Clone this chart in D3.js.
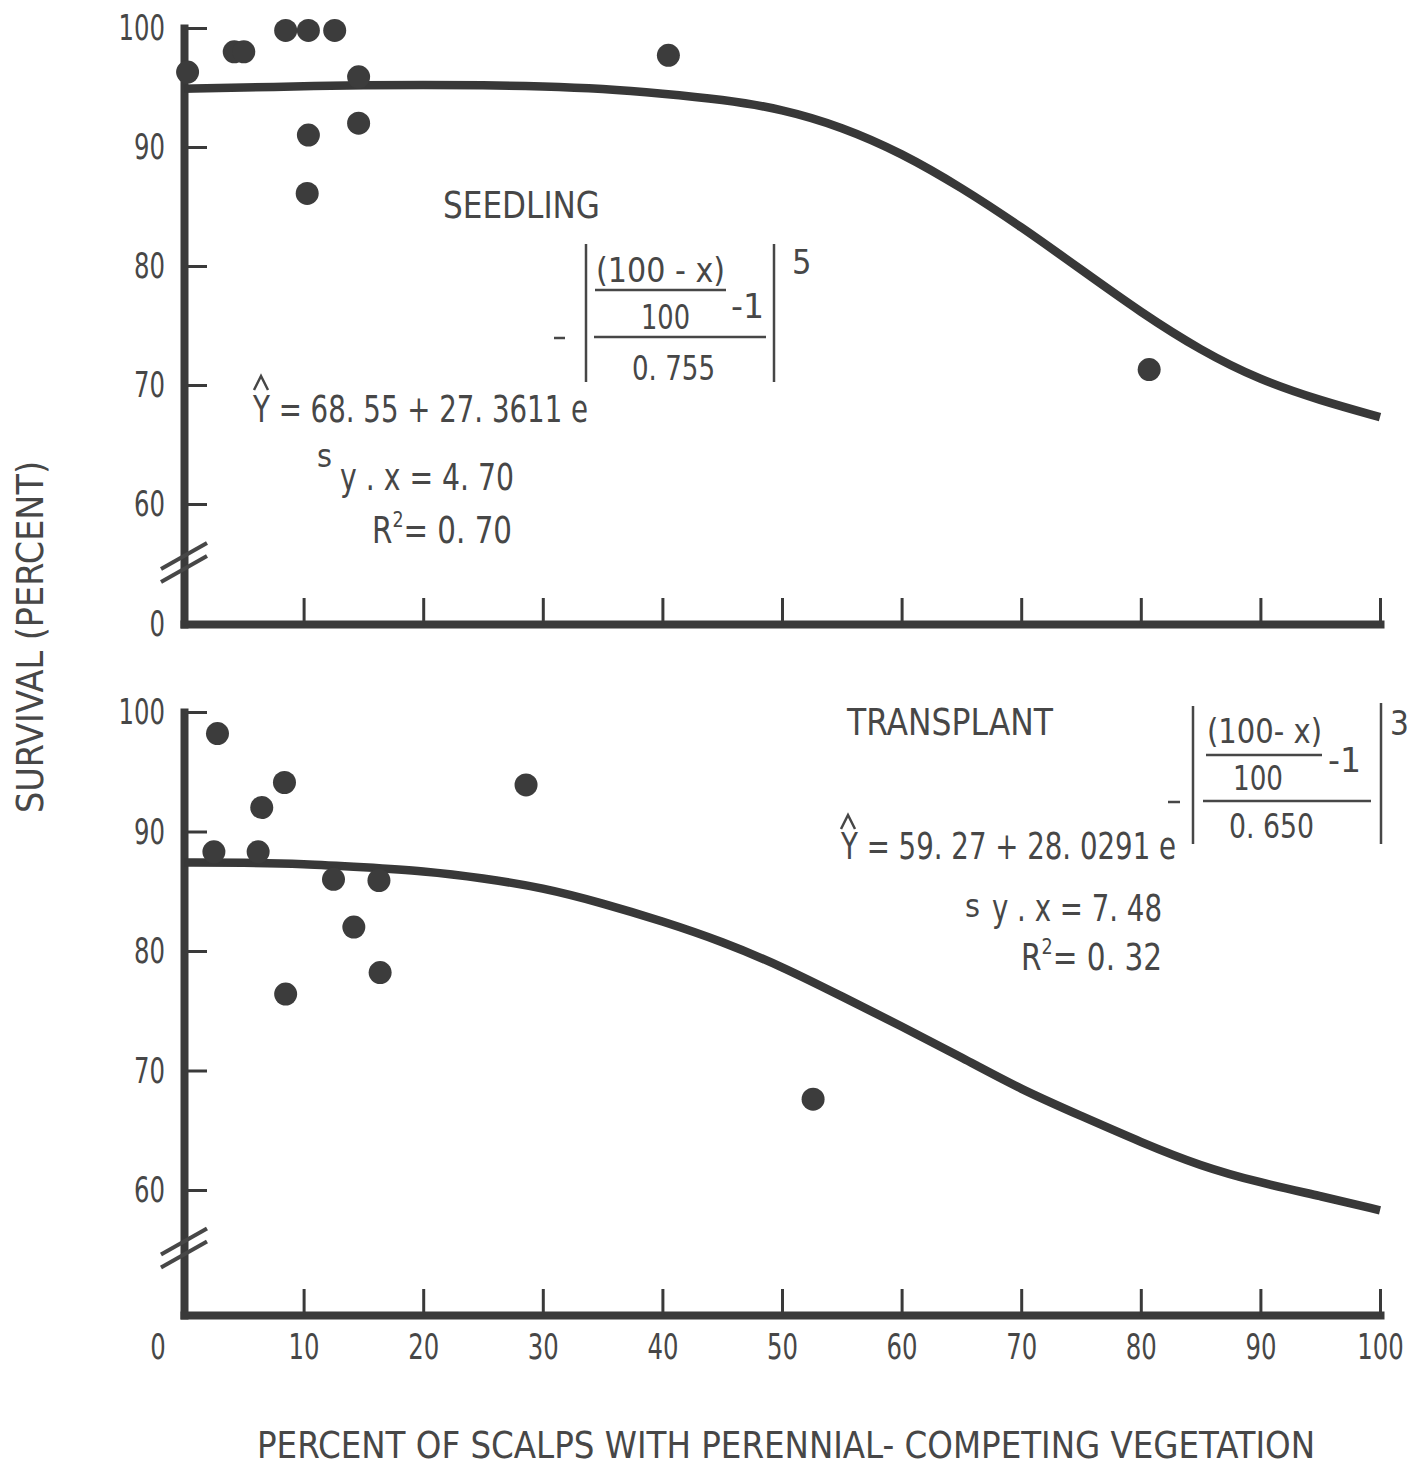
<!DOCTYPE html>
<html lang="en">
<head>
    <meta charset="UTF-8">
    <title>Survival vs competing vegetation</title>
    <style>
        body { margin: 0; background: #fff; }
        text {
            font-family: "Liberation Sans Narrow", "DejaVu Sans Condensed", "Arial Narrow", sans-serif;
            fill: #474747;
        }
        .domain { stroke: #3a3a3a; stroke-width: 8; stroke-linecap: square; }
        .tick line { stroke: #3a3a3a; stroke-width: 3; }
        .fit { fill: none; stroke: #383838; stroke-width: 8.5; }
        .dot { fill: #3c3c3c; }
        .rule { stroke: #474747; stroke-width: 2.5; fill: none; }
    </style>
</head>
<body>
<svg id="chart" width="1422" height="1466"></svg>
<script src="https://cdn.jsdelivr.net/npm/d3@7"></script>
<script>
// values
const curveX = [0, 5, 10, 15, 20, 25, 30, 35, 40, 45, 50, 55, 60, 65, 70, 75, 80, 85, 90, 95, 100]
const seedlingCurve = [94.9, 95.0, 95.1, 95.2, 95.2, 95.2, 95.1, 94.9, 94.5, 94.0, 93.2, 91.7, 89.5, 86.6, 83.3, 79.7, 76.1, 72.9, 70.4, 68.7, 67.3]
const transplantCurve = [87.4, 87.4, 87.3, 87.0, 86.7, 86.1, 85.3, 84.0, 82.5, 80.8, 78.7, 76.2, 73.7, 71.1, 68.4, 66.2, 64.0, 62.0, 60.6, 59.5, 58.3]

const seedlingX = [0.3, 4.2, 5.0, 8.5, 10.4, 12.6, 14.6, 14.6, 10.4, 10.3, 40.5, 80.7]
const seedlingY = [96.3, 98.0, 98.0, 99.8, 99.8, 99.8, 95.9, 92.0, 91.0, 86.1, 97.7, 71.3]
const transplantX = [2.8, 8.4, 6.5, 2.5, 6.2, 12.5, 16.3, 14.2, 16.4, 8.5, 28.6, 52.6]
const transplantY = [98.2, 94.1, 92.0, 88.3, 88.3, 86.0, 85.9, 82.0, 78.2, 76.4, 93.9, 67.6]

const xTicks = [10, 20, 30, 40, 50, 60, 70, 80, 90, 100]
const yTicks = [60, 70, 80, 90, 100]

let svg = d3.select("#chart")

let xScale = d3.scaleLinear()
    .domain([0, 100])
    .range([184, 1380])

let line = d3.line()
    .x(d => xScale(d[0]))
    .y(d => d[1])
    .curve(d3.curveBasis)

function label(x, y, str, size, opts = {}) {
    let t = svg.append("text")
        .attr("x", x)
        .attr("y", y)
        .attr("font-size", size)
        .attr("text-anchor", opts.anchor || "start")
        .text(str)
    if (opts.len) t.attr("textLength", opts.len).attr("lengthAdjust", "spacingAndGlyphs")
    return t
}

// R squared line, with the 2 raised inside the same text
function rSquared(x, y, value, len) {
    let t = svg.append("text")
        .attr("x", x)
        .attr("y", y)
        .attr("font-size", 37)
        .attr("textLength", len)
        .attr("lengthAdjust", "spacingAndGlyphs")
    t.append("tspan").text("R")
    t.append("tspan").attr("dy", -16).attr("font-size", 22).text("2")
    t.append("tspan").attr("dy", 16).text("= " + value)
}

function rule(x1, y1, x2, y2, w) {
    svg.append("line")
        .attr("class", "rule")
        .attr("x1", x1).attr("y1", y1)
        .attr("x2", x2).attr("y2", y2)
        .style("stroke-width", w || 2.5)
}

function squeeze(a) {
    a.selectAll("text")
        .attr("font-size", 36)
        .attr("textLength", function () { return this.textContent.length * 15.5 })
        .attr("lengthAdjust", "spacingAndGlyphs")
}

function drawPanel(p) {
    // linear from 60 up to 100; the axis is broken below 60 and runs on to the x axis
    let yScale = d3.scaleLinear()
        .domain([60, 100])
        .range([p.y60, p.y100])
    let yLow = yScale.invert(p.bottom)
    yScale.domain([yLow, 100]).range([p.bottom, p.y100])

    let g = svg.append("g")

    let ticks = p.zeroLabel ? [yLow].concat(yTicks) : yTicks
    g.append("g")
        .attr("transform", "translate(" + xScale(0) + ",0)")
        .call(d3.axisLeft(yScale)
            .tickValues(ticks)
            .tickFormat(d => d < 60 ? "0" : d)
            .tickSize(-23)
            .tickSizeOuter(0)
            .tickPadding(19))
        .call(squeeze)

    let xAxis = d3.axisBottom(xScale)
        .tickValues(xTicks)
        .tickSize(-26)
        .tickSizeOuter(0)
        .tickPadding(18)
    if (!p.xLabels) xAxis.tickFormat("")
    g.append("g")
        .attr("transform", "translate(0," + p.bottom + ")")
        .call(xAxis)
        .call(squeeze)

    // axis break slashes
    let mid = (yScale(60) + p.bottom) / 2
    let x0 = xScale(0)
    p.breaks.forEach(off => rule(x0 - 23, mid + off + 13, x0 + 23, mid + off - 13, 4))

    g.append("path")
        .attr("class", "fit")
        .attr("d", line(curveX.map((x, i) => [x, yScale(p.curve[i])])))

    g.selectAll("circle")
        .data(p.xs.map((x, i) => [x, p.ys[i]]))
        .join("circle")
        .attr("class", "dot")
        .attr("cx", d => xScale(d[0]))
        .attr("cy", d => yScale(d[1]))
        .attr("r", 11.5)
}

drawPanel({ curve: seedlingCurve, xs: seedlingX, ys: seedlingY, breaks: [-8, 5],
    bottom: 624, y60: 504, y100: 28, zeroLabel: true, xLabels: false })
drawPanel({ curve: transplantCurve, xs: transplantX, ys: transplantY, breaks: [-11, 2],
    bottom: 1315, y60: 1190, y100: 712, zeroLabel: false, xLabels: true })

// origin label of the bottom x axis
label(158, 1359, "0", 36, { anchor: "middle", len: 15.5 })

// axis titles
label(786, 1458, "PERCENT OF SCALPS WITH PERENNIAL- COMPETING VEGETATION", 38, { anchor: "middle", len: 1058 })
label(0, 0, "SURVIVAL (PERCENT)", 38, { anchor: "middle", len: 352 })
    .attr("transform", "translate(43,637) rotate(-90)")

// seedling equation
label(443, 218, "SEEDLING", 38, { len: 157 })
label(596, 282, "(100 - x)", 34, { len: 129 })
rule(595, 290, 726, 290)
label(731, 318, "-1", 34, { len: 33 })
label(641, 329, "100", 34, { len: 49 })
rule(594, 337, 766, 337)
label(632, 380, "0. 755", 34, { len: 83 })
rule(586, 244, 586, 382)
rule(774, 244, 774, 382)
rule(554, 338, 565, 338)
label(792, 274, "5", 34)
label(253, 422, "Y = 68. 55 + 27. 3611 e", 37, { len: 335 })
svg.append("path").attr("class", "rule").attr("d", "M254,390L261,376L268,390")
label(317, 467, "s", 32)
label(340, 490, "y . x = 4. 70", 37, { len: 174 })
rSquared(372, 543, "0. 70", 140)

// transplant equation
label(847, 735, "TRANSPLANT", 38, { len: 206 })
label(1207, 743, "(100- x)", 34, { len: 115 })
rule(1206, 755, 1322, 755)
label(1328, 772, "-1", 34, { len: 33 })
label(1233, 790, "100", 34, { len: 50 })
rule(1203, 801, 1371, 801)
label(1229, 838, "0. 650", 34, { len: 85 })
rule(1193, 706, 1193, 844)
rule(1381, 703, 1381, 844)
rule(1168, 802, 1180, 802)
label(1390, 735, "3", 33)
label(841, 859, "Y = 59. 27 + 28. 0291 e", 37, { len: 335 })
svg.append("path").attr("class", "rule").attr("d", "M841,829L848,815L855,829")
label(965, 917, "s", 32)
label(992, 921, "y . x = 7. 48", 37, { len: 170 })
rSquared(1021, 970, "0. 32", 141)
</script>
</body>
</html>
